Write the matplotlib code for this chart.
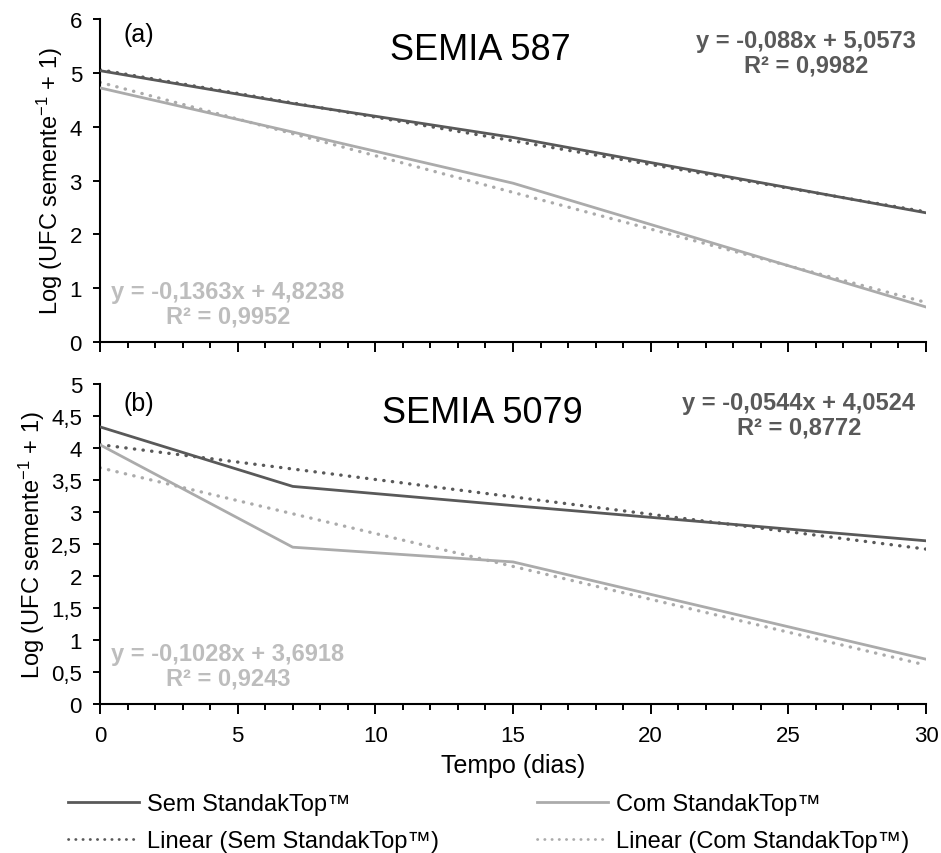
import matplotlib
matplotlib.use("Agg")
import matplotlib.pyplot as plt
import numpy as np
from matplotlib.lines import Line2D
from matplotlib.ticker import MultipleLocator, FuncFormatter

plt.rcParams["font.family"] = ["Liberation Sans", "DejaVu Sans"]
plt.rcParams["mathtext.default"] = "regular"

# ---- data -------------------------------------------------------------------
dias = [0, 7, 15, 30]

# SEMIA 587
sem_587 = [5.04, 4.43, 3.80, 2.40]
com_587 = [4.72, 3.90, 2.95, 0.65]

# SEMIA 5079
sem_5079 = [4.33, 3.40, 3.10, 2.55]
com_5079 = [4.05, 2.45, 2.22, 0.70]

# trendline equations printed on the chart (slope, intercept, R²)
eq_sem_587 = (-0.088, 5.0573, 0.9982)
eq_com_587 = (-0.1363, 4.8238, 0.9952)
eq_sem_5079 = (-0.0544, 4.0524, 0.8772)
eq_com_5079 = (-0.1028, 3.6918, 0.9243)

DARK = "#595959"
LIGHT = "#ABABAB"
LIGHT_TXT = "#BDBDBD"
DOTS = (0, (0.1, 2.5))


def fmt_num(v):
    return f"{v:g}".replace(".", ",")


def eq_text(eq):
    m, b, r2 = eq
    return f"y = {fmt_num(m)}x + {fmt_num(b)}\nR² = {fmt_num(r2)}"


def draw_panel(ax, sem, com, eq_sem, eq_com, title, tag, ymax, ystep, pos):
    x = np.array(dias, dtype=float)
    xs = np.array([x.min(), x.max()])
    ax.plot(x, sem, color=DARK, lw=2.0, zorder=3)
    ax.plot(x, com, color=LIGHT, lw=2.0, zorder=3)
    ax.plot(xs, eq_sem[0] * xs + eq_sem[1], color=DARK, lw=2.4,
            ls=DOTS, dash_capstyle="round", zorder=2)
    ax.plot(xs, eq_com[0] * xs + eq_com[1], color=LIGHT, lw=2.4,
            ls=DOTS, dash_capstyle="round", zorder=2)

    ax.set_xlim(0, 30)
    ax.set_ylim(0, ymax)
    ax.xaxis.set_major_locator(MultipleLocator(5))
    ax.xaxis.set_minor_locator(MultipleLocator(1))
    ax.yaxis.set_major_locator(MultipleLocator(ystep))
    ax.yaxis.set_major_formatter(FuncFormatter(lambda v, p: fmt_num(round(v, 2))))
    ax.tick_params(axis="x", which="major", direction="out", length=7, width=1.4)
    ax.tick_params(axis="x", which="minor", direction="out", length=4, width=1.4)
    ax.tick_params(axis="y", which="major", direction="out", length=5, width=1.4,
                   labelsize=16, pad=8)
    for sp in ("top", "right"):
        ax.spines[sp].set_visible(False)
    for sp in ("left", "bottom"):
        ax.spines[sp].set_linewidth(1.5)
        ax.spines[sp].set_color("black")

    ax.set_ylabel("Log (UFC semente$^{-1}$ + 1)", fontsize=17, labelpad=3)
    tx, ty, gx, gy, dx, dy, lx, ly = pos
    ax.text(tx, ty, title, transform=ax.transAxes, ha="center",
            va="baseline", fontsize=26)
    ax.text(gx, gy, tag, transform=ax.transAxes, ha="left",
            va="baseline", fontsize=18)
    ax.text(dx, dy, eq_text(eq_sem), transform=ax.transAxes, ha="center",
            va="center", fontsize=17, fontweight="bold", color=DARK,
            linespacing=1.1)
    ax.text(lx, ly, eq_text(eq_com), transform=ax.transAxes, ha="center",
            va="center", fontsize=17, fontweight="bold", color=LIGHT_TXT,
            linespacing=1.1)


fig = plt.figure(figsize=(9.41, 8.54), dpi=100)
ax_a = fig.add_axes([100 / 941, 1 - 343 / 854, 826 / 941, 323 / 854])
ax_b = fig.add_axes([100 / 941, 1 - 705 / 854, 826 / 941, 320 / 854])

draw_panel(ax_a, sem_587, com_587, eq_sem_587, eq_com_587,
           "SEMIA 587", "(a)", 6, 1,
           (0.46, 0.876, 0.029, 0.932, 0.855, 0.895, 0.155, 0.118))
draw_panel(ax_b, sem_5079, com_5079, eq_sem_5079, eq_com_5079,
           "SEMIA 5079", "(b)", 5, 0.5,
           (0.463, 0.881, 0.029, 0.919, 0.846, 0.903, 0.155, 0.119))

ax_a.tick_params(axis="x", labelbottom=False)
ax_b.tick_params(axis="x", labelsize=16, pad=8)
ax_b.set_xlabel("Tempo (dias)", fontsize=18, labelpad=5)

leg_kw = dict(loc="upper left", frameon=False, prop={"size": 17},
              handlelength=3.0, handletextpad=0.35, labelspacing=0.62,
              borderaxespad=0, borderpad=0)
left = [
    Line2D([0], [0], color=DARK, lw=2.0, label="Sem StandakTop™"),
    Line2D([0], [0], color=DARK, lw=2.0, ls=DOTS, dash_capstyle="round",
           label="Linear (Sem StandakTop™)"),
]
right = [
    Line2D([0], [0], color=LIGHT, lw=2.0, label="Com StandakTop™"),
    Line2D([0], [0], color=LIGHT, lw=2.0, ls=DOTS, dash_capstyle="round",
           label="Linear (Com StandakTop™)"),
]
fig.legend(handles=left, bbox_to_anchor=(68 / 941, 0.070), **leg_kw)
fig.legend(handles=right, bbox_to_anchor=(537 / 941, 0.070), **leg_kw)

fig.savefig("out.png", dpi=100)
